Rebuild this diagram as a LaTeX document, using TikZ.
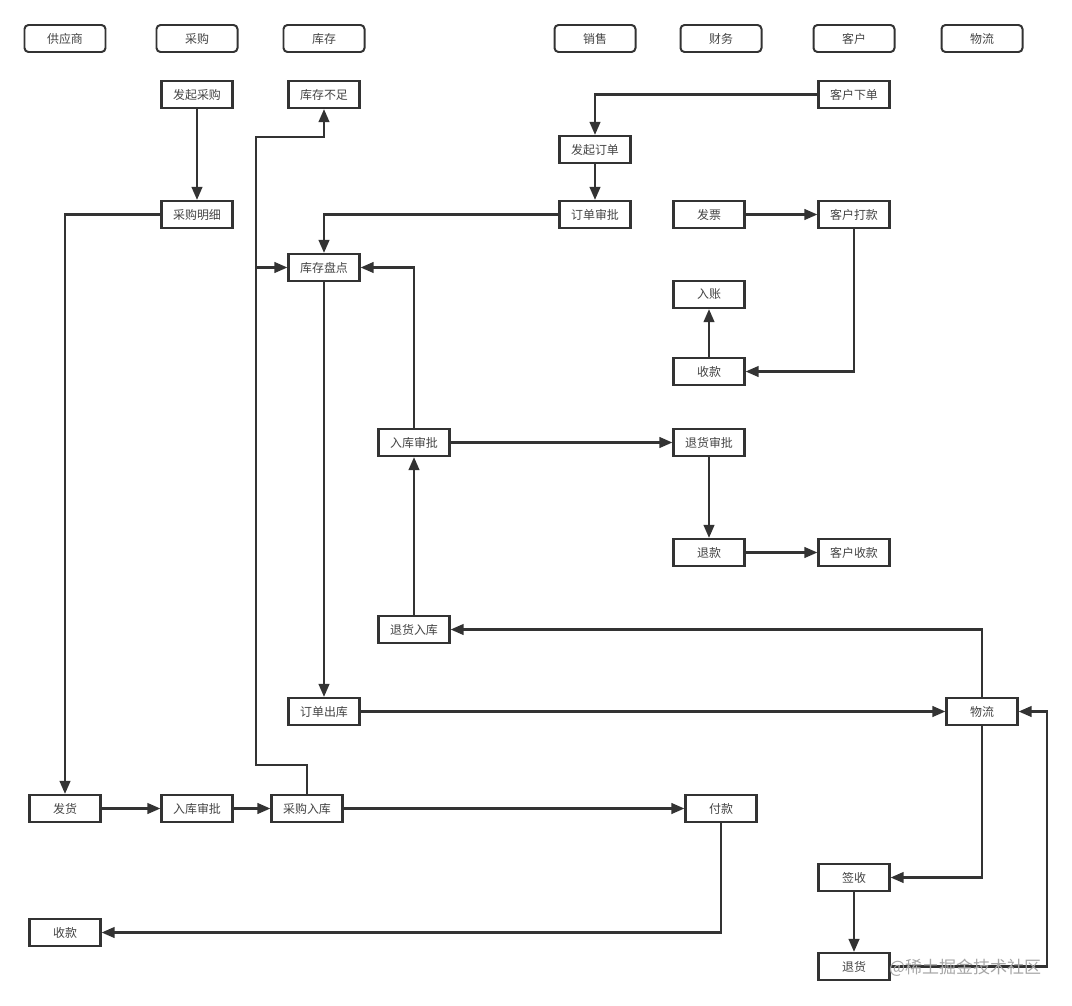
\documentclass[tikz,border=0pt]{standalone}
\usepackage{fontspec}
\setmainfont{Noto Sans CJK SC}
\usetikzlibrary{arrows.meta}
\definecolor{ink}{RGB}{51,51,51}
\definecolor{txt}{RGB}{68,68,68}

\begin{document}
\begin{tikzpicture}[x=0.03cm,y=-0.03cm,>={Triangle[length=3.9mm,width=3.2mm]},
  every node/.style={font=\fontsize{10.2}{12}\selectfont,text=txt},
  lane/.style={draw=ink,line width=1.7pt,rounded corners=1.2mm,minimum width=2.43cm,minimum height=0.81cm,inner sep=0pt},
  task/.style={draw=ink,line width=1.9pt,fill=white,minimum width=2.13cm,minimum height=0.81cm,inner sep=0pt},
  flow/.style={draw=ink,line width=1.8pt,->}]
\useasboundingbox (0,0) rectangle (1072,1005);
\node[lane] (hSupplier) at (65,38.5) {供应商};
\node[lane] (hPurchase) at (197,38.5) {采购};
\node[lane] (hStock) at (324,38.5) {库存};
\node[lane] (hSales) at (595,38.5) {销售};
\node[lane] (hFinance) at (721,38.5) {财务};
\node[lane] (hCustomer) at (854,38.5) {客户};
\node[lane] (hLogistics) at (982,38.5) {物流};
\node[task] (startPurchase) at (197,94.5) {发起采购};
\node[task] (stockShort) at (324,94.5) {库存不足};
\node[task] (custOrder) at (854,94.5) {客户下单};
\node[task] (startOrder) at (595,149.5) {发起订单};
\node[task] (purchaseDetail) at (197,214.5) {采购明细};
\node[task] (orderApprove) at (595,214.5) {订单审批};
\node[task] (invoice) at (709,214.5) {发票};
\node[task] (custPay) at (854,214.5) {客户打款};
\node[task] (stockCheck) at (324,267.5) {库存盘点};
\node[task] (bookIn) at (709,294.5) {入账};
\node[task] (finRecv) at (709,371.5) {收款};
\node[task] (inApprove) at (414,442.5) {入库审批};
\node[task] (returnApprove) at (709,442.5) {退货审批};
\node[task] (refund) at (709,552.5) {退款};
\node[task] (custRefund) at (854,552.5) {客户收款};
\node[task] (returnIn) at (414,629.5) {退货入库};
\node[task] (orderOut) at (324,711.5) {订单出库};
\node[task] (logistics) at (982,711.5) {物流};
\node[task] (ship) at (65,808.5) {发货};
\node[task] (purchaseApprove) at (197,808.5) {入库审批};
\node[task] (purchaseIn) at (307,808.5) {采购入库};
\node[task] (pay) at (721,808.5) {付款};
\node[task] (sign) at (854,877.5) {签收};
\node[task] (supRecv) at (65,932.5) {收款};
\node[task] (returnGoods) at (854,966.5) {退货};
\coordinate (upTurn) at (256,765);
\coordinate (upTop) at (256,137);
\coordinate (backRight) at (1047,711.5);
\draw[flow] (startPurchase) -- (purchaseDetail);
\draw[flow] (purchaseDetail.west) -| (ship.north);
\draw[flow] (ship) -- (purchaseApprove);
\draw[flow] (purchaseApprove) -- (purchaseIn);
\draw[flow] (purchaseIn) -- (pay);
\draw[flow] (pay.south) |- (supRecv.east);
\draw[flow] (purchaseIn.north) |- (upTurn) -- (upTop) -| (stockShort.south);
\draw[flow] (purchaseIn.north) |- (upTurn) |- (stockCheck.west);
\draw[flow] (custOrder.west) -| (startOrder.north);
\draw[flow] (startOrder) -- (orderApprove);
\draw[flow] (orderApprove.west) -| (stockCheck.north);
\draw[flow] (invoice) -- (custPay);
\draw[flow] (custPay.south) |- (finRecv.east);
\draw[flow] (finRecv) -- (bookIn);
\draw[flow] (inApprove.north) |- (stockCheck.east);
\draw[flow] (inApprove) -- (returnApprove);
\draw[flow] (returnApprove) -- (refund);
\draw[flow] (refund) -- (custRefund);
\draw[flow] (returnIn) -- (inApprove);
\draw[flow] (logistics.north) |- (returnIn.east);
\draw[flow] (stockCheck) -- (orderOut);
\draw[flow] (orderOut) -- (logistics);
\draw[flow] (logistics.south) |- (sign.east);
\draw[flow] (sign) -- (returnGoods);
\draw[flow] (returnGoods.east) -| (backRight) -- (logistics.east);
\node[font=\fontsize{14.5}{16}\selectfont,text=black!35] (mark) at (965,968) {@稀土掘金技术社区};
\end{tikzpicture}
\end{document}
